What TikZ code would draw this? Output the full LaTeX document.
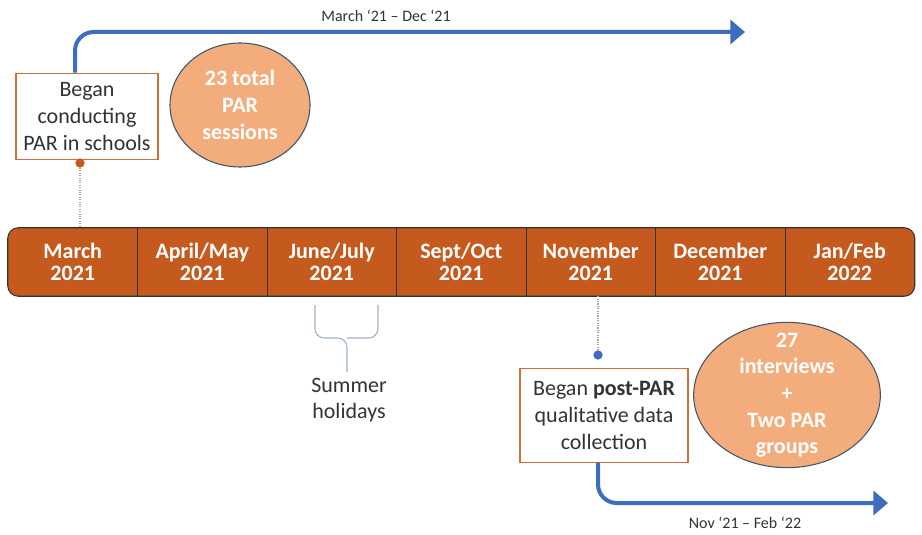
\documentclass[tikz,border=0pt]{standalone}
\usepackage{fontspec}
\setmainfont{Carlito}
\usetikzlibrary{positioning,arrows.meta,shapes.geometric,backgrounds}
\definecolor{barorange}{HTML}{C55A1E}
\definecolor{boxorange}{HTML}{C8703A}
\definecolor{bubblefill}{HTML}{F3AC7C}
\definecolor{bubbleedge}{HTML}{44546A}
\definecolor{flowblue}{HTML}{3F6CC0}
\definecolor{inkgray}{HTML}{333333}
\definecolor{bracegray}{HTML}{9FB0C8}

\tikzset{
  seg/.style={minimum width=97.1pt, minimum height=51pt, inner sep=0pt,
              align=center, text=white, font=\fontsize{16.5}{17}\selectfont\bfseries},
  event/.style={draw=boxorange, thick, fill=white, align=center, inner sep=1pt,
                text=inkgray, font=\fontsize{16.5}{20}\selectfont},
  bubble/.style={ellipse, draw=bubbleedge, thick, fill=bubblefill, inner sep=0pt},
  bubbletext/.style={align=center, text=white, font=\fontsize{16.5}{20}\selectfont\bfseries},
  dot/.style={circle, inner sep=0pt, minimum size=7pt},
  flow/.style={draw=flowblue, line width=3pt, rounded corners=14pt,
               -{Triangle[width=18pt,length=11pt]}},
  dotline/.style={draw=gray!70, densely dotted, thick},
  span/.style={text=inkgray, font=\fontsize{12}{14}\selectfont},
}

\begin{document}
\begin{tikzpicture}[x=0.75pt, y=-0.75pt]
  \useasboundingbox (0,0) rectangle (922,535);

  % timeline bar
  \foreach \lab [count=\i] in {{March\\2021},{April/May\\2021},{June/July\\2021},
      {Sept/Oct\\2021},{November\\2021},{December\\2021},{Jan/Feb\\2022}}
    \node[seg] (seg\i) at ({8+129.5*(\i-0.5)},262) {\lab};
  \begin{scope}[on background layer]
    \draw[fill=barorange, draw=black!80, thick, rounded corners=8pt]
      (seg1.north west) rectangle (seg7.south east);
  \end{scope}
  \foreach \i in {1,...,6}
    \draw[black!80, thick] (seg\i.north east) -- (seg\i.south east);

  % start of PAR
  \node[event, minimum width=106.5pt, minimum height=65pt] (began) at (87,116.5)
    {Began\\conducting\\PAR in schools};
  \node[dot, fill=barorange] (d1) at (80,163) {};
  \draw[dotline] (d1) -- (seg1.north -| d1);
  \node[bubble, minimum width=105pt, minimum height=93pt] (sessions) at (240,105) {};
  \node[bubbletext] (sessionstext) at (sessions) {23 total\\PAR\\sessions};
  \coordinate (endA) at (745,32);
  \draw[flow] ([xshift=-9]began.north) |- (endA);
  \node[span] (spanA) at (386,16) {March ‘21 – Dec ‘21};

  % summer brace
  \draw[bracegray, thick, rounded corners=7pt]
    (315,305) -- (315,338) -- (347,338) -- (347,372);
  \draw[bracegray, thick, rounded corners=7pt]
    (378,305) -- (378,338) -- (347,338);
  \node[text=inkgray, align=center, font=\fontsize{16.5}{20}\selectfont] (summer) at (349,400)
    {Summer\\holidays};

  % post-PAR
  \node[dot, fill=flowblue] (d2) at (598,355) {};
  \draw[dotline] (seg5.south -| d2) -- (d2);
  \node[event, minimum width=126pt, minimum height=70pt] (post) at (604,415.5)
    {Began \textbf{post-PAR}\\qualitative data\\collection};
  \node[bubble, minimum width=140pt, minimum height=109pt] (results) at (787,395) {};
  \node[bubbletext] (resultstext) at (results) {27\\interviews\\+\\Two PAR\\groups};
  \coordinate (endB) at (888,503);
  \draw[flow] (post.south -| d2) |- (endB);
  \node[span] (spanB) at (745,523) {Nov ‘21 – Feb ‘22};
\end{tikzpicture}
\end{document}
